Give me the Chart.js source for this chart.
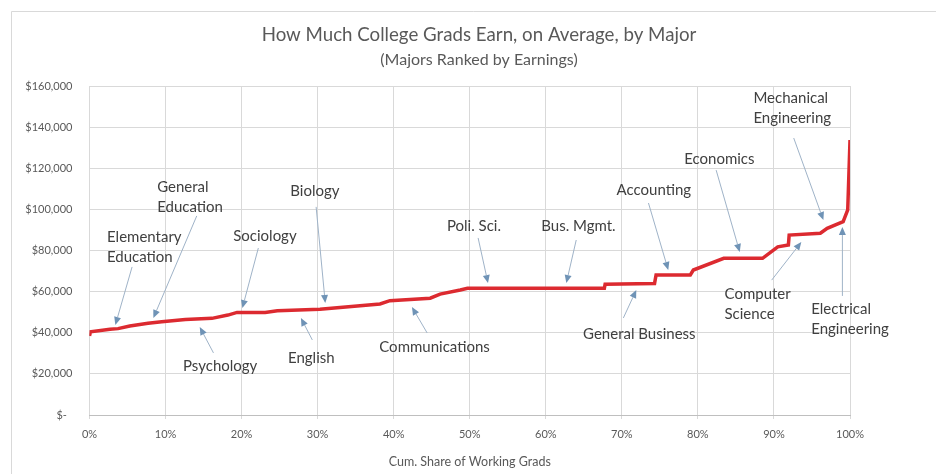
<!DOCTYPE html>
<html><head><meta charset="utf-8">
<script src="https://cdn.jsdelivr.net/npm/chart.js@4.4.1/dist/chart.umd.min.js"></script>
<style>html,body{margin:0;padding:0;background:#fff;} canvas{display:block;}</style>
</head><body>
<canvas id="c" width="936" height="474"></canvas>
<script>
// ---- data ----
const titleText = 'How Much College Grads Earn, on Average, by Major';
const subtitleText = '(Majors Ranked by Earnings)';
const xAxisTitle = 'Cum. Share of Working Grads';

const shareTicks = [0, 10, 20, 30, 40, 50, 60, 70, 80, 90, 100];
const earningTicks = [0, 20000, 40000, 60000, 80000, 100000, 120000, 140000, 160000];

// cumulative share of working grads (%), and average earnings ($)
const cumShare = [0, 0.13, 2.7, 3.75, 5.3, 7.7, 9.5, 12.6, 16.1, 18.2, 19.4, 23.1, 24.7, 30.3, 38.2, 39.5, 44.8, 46.1, 48.75, 49.7, 67.7, 67.8, 74.3, 74.5, 79.0, 79.4, 83.4, 88.5, 90.5, 91.9, 92.0, 96.1, 97.0, 99.1, 99.7, 100];
const earnings = [38500, 40500, 41700, 42000, 43300, 44600, 45400, 46500, 47000, 48600, 49900, 49900, 50700, 51400, 54000, 55600, 56800, 58800, 60800, 61600, 61600, 63600, 64000, 68100, 68100, 70500, 76200, 76200, 81800, 82700, 87500, 88400, 90800, 94000, 99700, 133700];

// majors called out on the chart (point each arrow refers to)
const majorNames = ['Elementary\nEducation', 'General\nEducation', 'Sociology', 'Biology', 'Psychology', 'English', 'Communications', 'Poli. Sci.', 'Bus. Mgmt.', 'General Business', 'Accounting', 'Economics', 'Computer\nScience', 'Mechanical\nEngineering', 'Electrical\nEngineering'];
const majorShare = [3.4, 8.4, 20.1, 31.0, 14.5, 27.8, 42.4, 52.4, 62.7, 71.9, 76.1, 85.5, 93.6, 96.5, 99.0];
const majorEarnings = [43800, 47200, 52000, 54500, 42800, 47200, 52500, 64200, 64200, 60800, 70500, 79300, 84100, 94800, 91400];

// ---- callout layout (label anchor and arrow tail, in axis units) ----
const calloutLayout = [
  {lx: 2.3,  ly: 86600,  tx: 5.6,  ty: 72000},
  {lx: 8.9,  ly: 110900, tx: 14.1, ty: 96800},
  {lx: 18.9, ly: 87000,  tx: 22.2, ty: 81200},
  {lx: 26.4, ly: 108900, tx: 29.8, ty: 101200},
  {lx: 12.3, ly: 23800,  tx: 16.3, ty: 30200},
  {lx: 26.1, ly: 27700,  tx: 29.3, ty: 36500},
  {lx: 38.1, ly: 33100,  tx: 44.4, ty: 39900},
  {lx: 47.0, ly: 91900,  tx: 51.1, ty: 86100},
  {lx: 59.4, ly: 91900,  tx: 64.0, ty: 85100},
  {lx: 64.9, ly: 39400,  tx: 70.2, ty: 47200},
  {lx: 69.3, ly: 109400, tx: 73.5, ty: 103100},
  {lx: 78.2, ly: 124500, tx: 82.4, ty: 119100},
  {lx: 83.5, ly: 58800,  tx: 89.7, ty: 65600},
  {lx: 87.3, ly: 154200, tx: 92.6, ty: 134700},
  {lx: 94.9, ly: 51500,  tx: 99.0, ty: 57900}
];

const FONT = 'Lato, "Open Sans", sans-serif';
const points = cumShare.map((s, i) => ({x: s, y: earnings[i]}));

const decorPlugin = {
  id: 'decor',
  beforeDraw(chart) {
    const ctx = chart.ctx;
    ctx.save();
    ctx.fillStyle = '#ffffff';
    ctx.fillRect(0, 0, chart.width, chart.height);
    ctx.strokeStyle = '#d9d9d9';
    ctx.lineWidth = 1;
    ctx.beginPath();
    ctx.moveTo(11.5, chart.height);
    ctx.lineTo(11.5, 11.5);
    ctx.lineTo(chart.width, 11.5);
    ctx.stroke();
    const cx = chart.width / 2 + 11;
    ctx.fillStyle = '#595959';
    ctx.textAlign = 'center';
    ctx.textBaseline = 'middle';
    ctx.font = '18.7px ' + FONT;
    ctx.fillText(titleText, cx, 35);
    ctx.font = '16px ' + FONT;
    ctx.fillText(subtitleText, cx, 60);
    ctx.restore();
  },
  afterDatasetsDraw(chart) {
    const ctx = chart.ctx;
    const xs = chart.scales.x, ys = chart.scales.y;
    ctx.save();
    majorNames.forEach((name, i) => {
      const L = calloutLayout[i];
      const tipX = xs.getPixelForValue(majorShare[i]);
      const tipY = ys.getPixelForValue(majorEarnings[i]);
      const tailX = xs.getPixelForValue(L.tx);
      const tailY = ys.getPixelForValue(L.ty);
      const ang = Math.atan2(tipY - tailY, tipX - tailX);
      const hl = 8, hw = 3.5;
      const bx = tipX - hl * Math.cos(ang), by = tipY - hl * Math.sin(ang);
      ctx.strokeStyle = '#9fb3c8';
      ctx.lineWidth = 1;
      ctx.beginPath();
      ctx.moveTo(tailX, tailY);
      ctx.lineTo(bx, by);
      ctx.stroke();
      ctx.fillStyle = '#6f93b6';
      ctx.beginPath();
      ctx.moveTo(tipX, tipY);
      ctx.lineTo(bx + hw * Math.sin(ang), by - hw * Math.cos(ang));
      ctx.lineTo(bx - hw * Math.sin(ang), by + hw * Math.cos(ang));
      ctx.closePath();
      ctx.fill();
      // label
      const lx = xs.getPixelForValue(L.lx);
      const ly = ys.getPixelForValue(L.ly);
      ctx.fillStyle = '#404040';
      ctx.font = '15px ' + FONT;
      ctx.textAlign = 'left';
      ctx.textBaseline = 'middle';
      name.split('\n').forEach((line, k) => ctx.fillText(line, lx, ly + k * 20));
    });
    ctx.restore();
  }
};

new Chart(document.getElementById('c'), {
  type: 'line',
  data: {
    datasets: [
      {data: points, borderColor: '#dc2a30', borderWidth: 3.5, pointRadius: 0, tension: 0, fill: false},
      {data: points, borderColor: '#9b1d22', borderWidth: 1, pointRadius: 0, tension: 0, fill: false}
    ]
  },
  options: {
    responsive: false,
    animation: false,
    devicePixelRatio: 1,
    layout: {padding: {left: 10, right: 86, top: 86, bottom: 0}},
    plugins: {legend: {display: false}, tooltip: {enabled: false}, title: {display: false}},
    scales: {
      x: {
        type: 'linear', min: 0, max: 100,
        afterBuildTicks: (s) => { s.ticks = shareTicks.map(v => ({value: v})); },
        afterFit: (s) => { s.height = 59; },
        grid: {color: '#d9d9d9', lineWidth: 1, drawTicks: true, tickLength: 4},
        border: {color: '#bfbfbf', width: 1},
        ticks: {padding: 9, color: '#595959', font: {family: FONT, size: 11}, maxRotation: 0, callback: v => v + '%'},
        title: {display: true, text: xAxisTitle, color: '#595959', font: {family: FONT, size: 12.5}, padding: {top: 0, bottom: 5}}
      },
      y: {
        min: 0, max: 160000,
        afterBuildTicks: (s) => { s.ticks = earningTicks.map(v => ({value: v})); },
        afterFit: (s) => { s.width = 79.5; },
        grid: {color: '#d9d9d9', lineWidth: 1, drawTicks: false},
        border: {display: false},
        ticks: {padding: 17, color: '#595959', font: {family: FONT, size: 11},
          callback: v => v === 0 ? '$-  ' : '$' + v.toLocaleString('en-US')}
      }
    }
  },
  plugins: [decorPlugin]
});
</script>
</body></html>
